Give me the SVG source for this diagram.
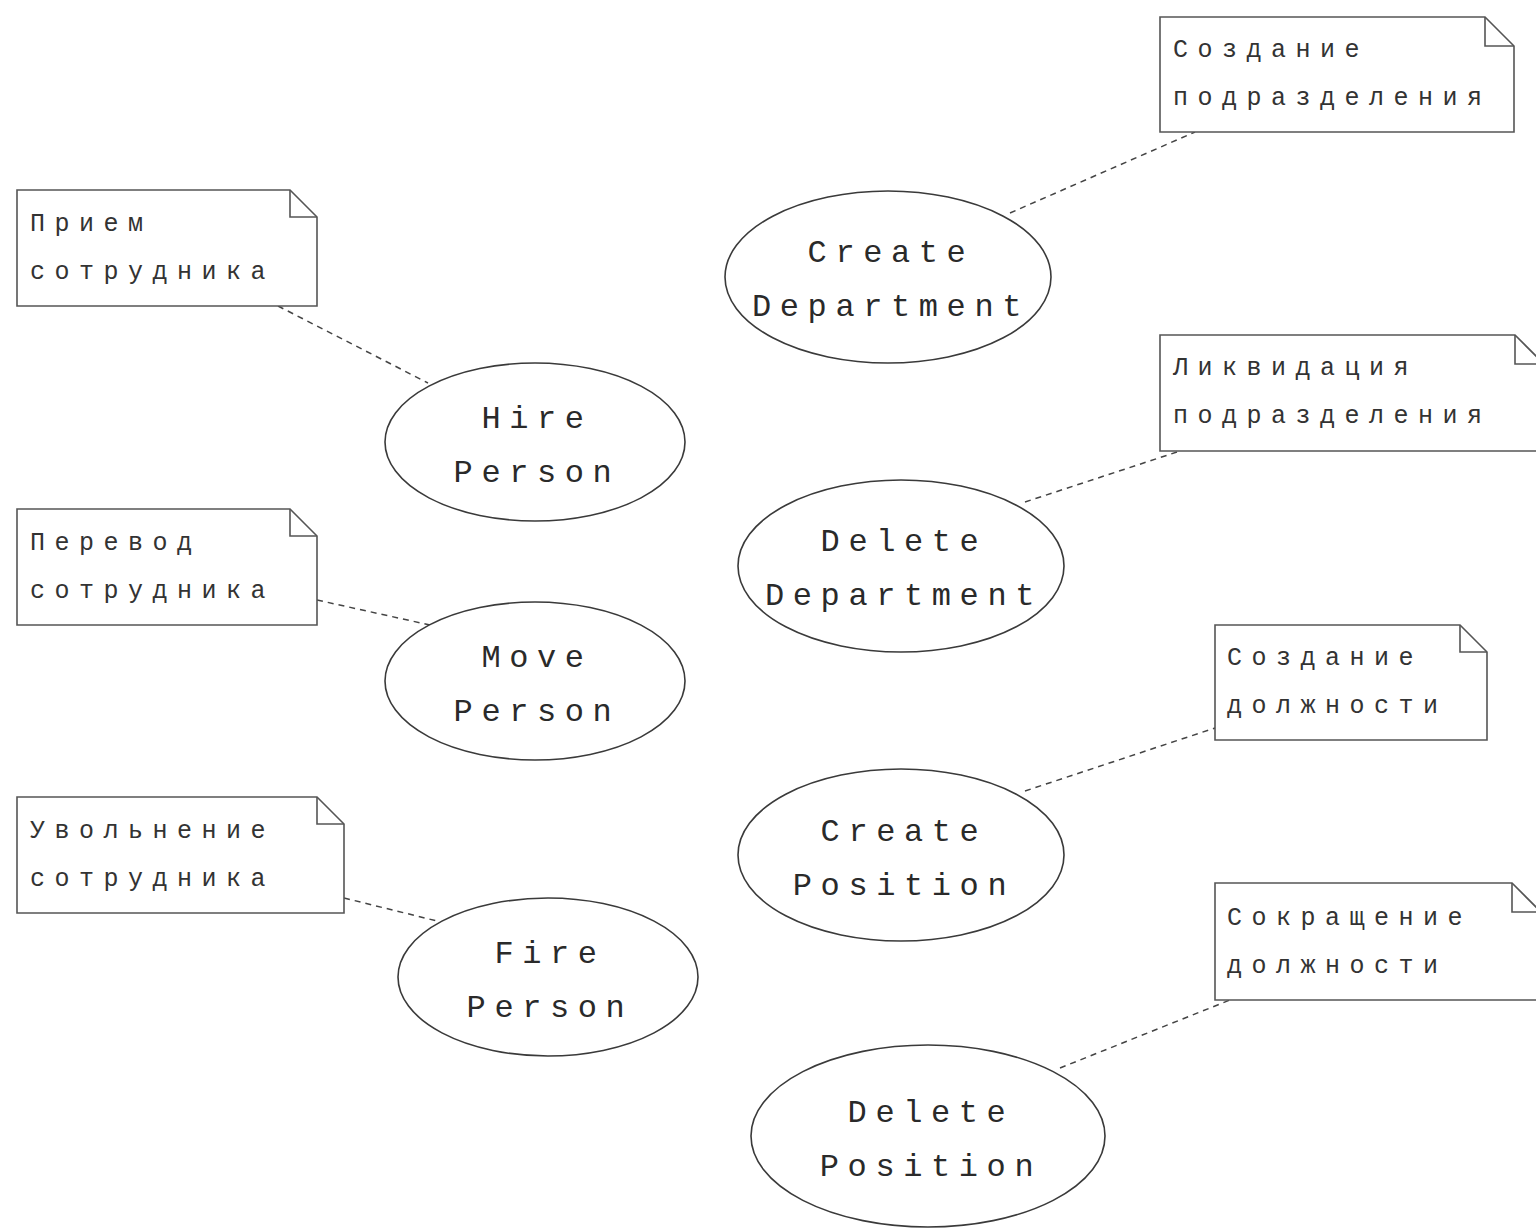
<svg xmlns="http://www.w3.org/2000/svg" width="1536" height="1232" viewBox="0 0 1536 1232">
  <style>
    .uc { fill: #ffffff; stroke: #3a3a3a; stroke-width: 1.6; }
    .note { fill: #ffffff; stroke: #555555; stroke-width: 1.6; }
    .fold { fill: none; stroke: #555555; stroke-width: 1.6; }
    .uct { font-family: "Liberation Mono", "Courier New", monospace; font-size: 32px; fill: #2a2a2a; text-anchor: middle; letter-spacing: 8.6px; }
    .nt { font-family: "Liberation Mono", "Courier New", monospace; font-size: 25px; fill: #333333; letter-spacing: 9.5px; }
    .link { stroke: #444444; stroke-width: 1.5; stroke-dasharray: 6 5; fill: none; }
  </style>

  <rect width="1536" height="1232" fill="#ffffff"/>

  <!-- dashed note anchors -->
  <g id="connectors">
    <line class="link" x1="1010" y1="213" x2="1195" y2="132"/>
    <line class="link" x1="278" y1="306" x2="428" y2="383"/>
    <line class="link" x1="1025" y1="502" x2="1180" y2="451"/>
    <line class="link" x1="317" y1="600" x2="430" y2="625"/>
    <line class="link" x1="1025" y1="791" x2="1215" y2="728"/>
    <line class="link" x1="344" y1="898" x2="437" y2="921"/>
    <line class="link" x1="1060" y1="1068" x2="1230" y2="1000"/>
  </g>

  <!-- notes: rectangle with a folded top-right corner -->
  <g id="note-create-dept">
    <path class="note" d="M1160 17 H1485 L1514 46 V132 H1160 Z"/>
    <path class="fold" d="M1485 17 V46 H1514"/>
    <text class="nt" x="1173" y="57">Создание</text>
    <text class="nt" x="1173" y="105">подразделения</text>
  </g>

  <g id="note-hire">
    <path class="note" d="M17 190 H290 L317 217 V306 H17 Z"/>
    <path class="fold" d="M290 190 V217 H317"/>
    <text class="nt" x="30" y="231">Прием</text>
    <text class="nt" x="30" y="279">сотрудника</text>
  </g>

  <g id="note-delete-dept">
    <path class="note" d="M1160 335 H1515 L1544 364 V451 H1160 Z"/>
    <path class="fold" d="M1515 335 V364 H1544"/>
    <text class="nt" x="1173" y="375">Ликвидация</text>
    <text class="nt" x="1173" y="423">подразделения</text>
  </g>

  <g id="note-move">
    <path class="note" d="M17 509 H290 L317 536 V625 H17 Z"/>
    <path class="fold" d="M290 509 V536 H317"/>
    <text class="nt" x="30" y="550">Перевод</text>
    <text class="nt" x="30" y="598">сотрудника</text>
  </g>

  <g id="note-create-pos">
    <path class="note" d="M1215 625 H1460 L1487 652 V740 H1215 Z"/>
    <path class="fold" d="M1460 625 V652 H1487"/>
    <text class="nt" x="1227" y="665">Создание</text>
    <text class="nt" x="1227" y="713">должности</text>
  </g>

  <g id="note-fire">
    <path class="note" d="M17 797 H317 L344 824 V913 H17 Z"/>
    <path class="fold" d="M317 797 V824 H344"/>
    <text class="nt" x="30" y="838">Увольнение</text>
    <text class="nt" x="30" y="886">сотрудника</text>
  </g>

  <g id="note-delete-pos">
    <path class="note" d="M1215 883 H1512 L1541 912 V1000 H1215 Z"/>
    <path class="fold" d="M1512 883 V912 H1541"/>
    <text class="nt" x="1227" y="925">Сокращение</text>
    <text class="nt" x="1227" y="973">должности</text>
  </g>

  <!-- use cases -->
  <g id="uc-create-dept">
    <ellipse class="uc" cx="888" cy="277" rx="163" ry="86"/>
    <text class="uct" x="891" y="262">Create</text>
    <text class="uct" x="891" y="316">Department</text>
  </g>

  <g id="uc-hire">
    <ellipse class="uc" cx="535" cy="442" rx="150" ry="79"/>
    <text class="uct" x="537" y="428">Hire</text>
    <text class="uct" x="537" y="482">Person</text>
  </g>

  <g id="uc-delete-dept">
    <ellipse class="uc" cx="901" cy="566" rx="163" ry="86"/>
    <text class="uct" x="904" y="551">Delete</text>
    <text class="uct" x="904" y="605">Department</text>
  </g>

  <g id="uc-move">
    <ellipse class="uc" cx="535" cy="681" rx="150" ry="79"/>
    <text class="uct" x="537" y="667">Move</text>
    <text class="uct" x="537" y="721">Person</text>
  </g>

  <g id="uc-create-pos">
    <ellipse class="uc" cx="901" cy="855" rx="163" ry="86"/>
    <text class="uct" x="904" y="841">Create</text>
    <text class="uct" x="904" y="895">Position</text>
  </g>

  <g id="uc-fire">
    <ellipse class="uc" cx="548" cy="977" rx="150" ry="79"/>
    <text class="uct" x="550" y="963">Fire</text>
    <text class="uct" x="550" y="1017">Person</text>
  </g>

  <g id="uc-delete-pos">
    <ellipse class="uc" cx="928" cy="1136" rx="177" ry="91"/>
    <text class="uct" x="931" y="1122">Delete</text>
    <text class="uct" x="931" y="1176">Position</text>
  </g>
</svg>
